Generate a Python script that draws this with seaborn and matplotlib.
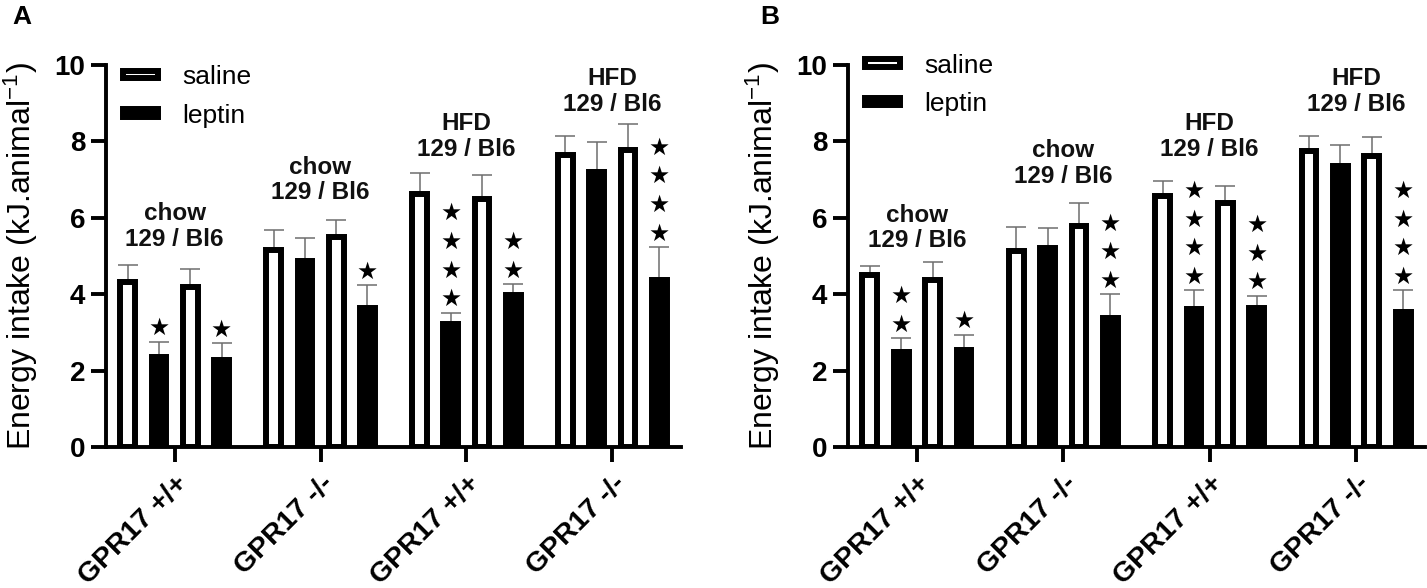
import numpy as np
import pandas as pd
import matplotlib
matplotlib.use('Agg')
import matplotlib.pyplot as plt
import seaborn as sns

# group categories along x, and the four bars inside each group
groups = ['chow +/+', 'chow -/-', 'HFD +/+', 'HFD -/-']
tick_labels = ['GPR17 +/+', 'GPR17 -/-', 'GPR17 +/+', 'GPR17 -/-']
group_text = ['chow\n129 / Bl6', 'chow\n129 / Bl6', 'HFD\n129 / Bl6', 'HFD\n129 / Bl6']
subgroups = ['129 saline', '129 leptin', 'Bl6 saline', 'Bl6 leptin']

# panel A: mean energy intake, rows = groups, cols = subgroups
mean_a = [[4.31, 2.35, 4.18, 2.29],
          [5.16, 4.86, 5.50, 3.63],
          [6.63, 3.21, 6.48, 3.99],
          [7.64, 7.19, 7.78, 4.37]]
sem_a = [[0.45, 0.41, 0.49, 0.43],
         [0.52, 0.62, 0.44, 0.60],
         [0.55, 0.31, 0.63, 0.28],
         [0.51, 0.79, 0.67, 0.87]]
stars_a = [[0, 1, 0, 1],
           [0, 0, 0, 1],
           [0, 4, 0, 2],
           [0, 0, 0, 4]]
label_y_a = [5.77, 6.99, 8.13, 9.30]

# panel B
mean_b = [[4.49, 2.48, 4.37, 2.55],
          [5.14, 5.21, 5.78, 3.38],
          [6.58, 3.62, 6.39, 3.64],
          [7.74, 7.35, 7.61, 3.54]]
sem_b = [[0.26, 0.37, 0.46, 0.39],
         [0.61, 0.52, 0.62, 0.62],
         [0.39, 0.48, 0.45, 0.32],
         [0.40, 0.56, 0.50, 0.56]]
stars_b = [[0, 2, 0, 1],
           [0, 0, 0, 3],
           [0, 4, 0, 3],
           [0, 0, 0, 4]]
label_y_b = [5.73, 7.43, 8.12, 9.30]

sns.set_theme(style='ticks')
plt.rcParams['font.family'] = ['Liberation Sans', 'DejaVu Sans']
plt.rcParams['mathtext.default'] = 'regular'
plt.rcParams['axes.linewidth'] = 2.8
for key in ['text.color', 'axes.labelcolor', 'xtick.color', 'ytick.color',
            'axes.edgecolor']:
    plt.rcParams[key] = 'black'

palette = {'129 saline': 'white', '129 leptin': 'black',
           'Bl6 saline': 'white', 'Bl6 leptin': 'black'}


def make_df(means):
    rows = []
    for i, g in enumerate(groups):
        for j, s in enumerate(subgroups):
            rows.append({'group': g, 'sub': s, 'value': means[i][j]})
    return pd.DataFrame(rows)


def draw_panel(ax, means, sems, stars, label_y, legend_y):
    df = make_df(means)
    sns.barplot(data=df, x='group', y='value', hue='sub', order=groups,
                hue_order=subgroups, palette=palette, edgecolor='black',
                linewidth=4.3, width=0.8575, gap=0.53, errorbar=None,
                legend=False, ax=ax, zorder=2)

    bar_sets = list(ax.containers)
    for j, cont in enumerate(bar_sets):
        xs = [p.get_x() + p.get_width() / 2 for p in cont.patches]
        ys = [means[i][j] for i in range(len(groups))]
        es = [sems[i][j] for i in range(len(groups))]
        ax.errorbar(xs, ys, yerr=[np.zeros(len(es)), es], fmt='none',
                    ecolor='#6e6e6e', elinewidth=1.1, capsize=7.5,
                    capthick=1.1, zorder=1)
        for i, x in enumerate(xs):
            for k in range(stars[i][j]):
                ax.text(x, ys[i] + es[i] + 0.35 + k * 0.75, '\u2605',
                        ha='center', va='center', fontsize=17,
                        family='DejaVu Sans', color='black')

    for i, txt in enumerate(group_text):
        ax.text(i, label_y[i], txt, ha='center', va='center', fontsize=17.5,
                fontweight='bold', linespacing=1.15, color='#111111')

    ax.set_ylim(0, 10)
    ax.set_xlim(-0.47, 3.47)
    ax.set_yticks([0, 2, 4, 6, 8, 10])
    ax.set_xticks(range(len(groups)))
    ax.set_xticklabels(tick_labels, rotation=45, ha='right',
                       rotation_mode='anchor', fontsize=20.5, fontweight='bold')
    for lab in ax.get_yticklabels():
        lab.set_fontsize(20)
        lab.set_fontweight('bold')
    ax.tick_params(axis='both', length=11, width=2.8, color='black', pad=4)
    ax.tick_params(axis='x', pad=6)
    ax.set_xlabel('')
    ax.set_ylabel('Energy intake (kJ.animal$^{-1}$)', fontsize=23, labelpad=10)
    sns.despine(ax=ax)

    handles = [bar_sets[0].patches[0], bar_sets[1].patches[0]]
    ax.legend(handles, ['saline', 'leptin'], loc='upper left',
              bbox_to_anchor=(0.03, legend_y), frameon=False, fontsize=19,
              handlelength=1.3, handleheight=0.05, handletextpad=0.93,
              labelspacing=0.55, borderpad=0, borderaxespad=0)


fig = plt.figure(figsize=(14.27, 5.88), dpi=100)
ax_a = fig.add_axes([106 / 1427, 141 / 588, 575 / 1427, 382 / 588])
ax_b = fig.add_axes([848 / 1427, 141 / 588, 577 / 1427, 382 / 588])

draw_panel(ax_a, mean_a, sem_a, stars_a, label_y_a, 1.0)
draw_panel(ax_b, mean_b, sem_b, stars_b, label_y_b, 1.03)

fig.text(12 / 1427, 1 - 5 / 588, 'A', ha='left', va='top', fontsize=19,
         fontweight='bold')
fig.text(760 / 1427, 1 - 5 / 588, 'B', ha='left', va='top', fontsize=19,
         fontweight='bold')

fig.savefig('out.png', dpi=100)
